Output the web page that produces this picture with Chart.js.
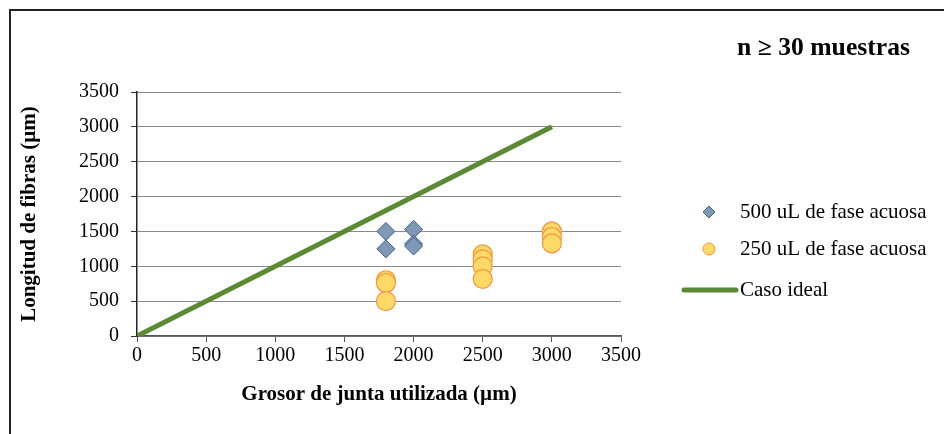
<!DOCTYPE html>
<html>
<head>
<meta charset="utf-8">
<script src="https://cdn.jsdelivr.net/npm/chart.js@4"></script>
<style>
html,body{margin:0;padding:0;background:#fff;}
#wrap{position:relative;width:944px;height:434px;}
</style>
</head>
<body>
<div id="wrap"><canvas id="c" width="944" height="434"></canvas></div>
<script>
// ---- data ----
const series500X = [1800, 1800, 2000, 2000, 2000];
const series500Y = [1500, 1250, 1530, 1320, 1290];
const series250X = [1800, 1800, 1800, 2500, 2500, 2500, 2500, 3000, 3000, 3000];
const series250Y = [800, 760, 500, 1170, 1100, 1000, 820, 1500, 1420, 1330];
const idealX = [0, 3000];
const idealY = [0, 3000];
const seriesLabels = ['500 uL de fase acuosa', '250 uL de fase acuosa', 'Caso ideal'];
const chartTitle = 'n \u2265 30 muestras';
const xTitle = 'Grosor de junta utilizada (\u00b5m)';
const yTitle = 'Longitud de fibras (\u00b5m)';
const axisMin = 0, axisMax = 3500, axisStep = 500;

const pts = (xs, ys) => xs.map((x, i) => ({x: x, y: ys[i]}));
const SERIF = '"Liberation Serif", "Times New Roman", serif';

const decorPlugin = {
  id: 'decor',
  beforeDraw(chart) {
    const ctx = chart.ctx;
    ctx.save();
    ctx.fillStyle = '#fff';
    ctx.fillRect(0, 0, chart.width, chart.height);
    ctx.strokeStyle = '#222';
    ctx.lineWidth = 2;
    ctx.beginPath();
    ctx.moveTo(10, 434);
    ctx.lineTo(10, 10);
    ctx.lineTo(944, 10);
    ctx.stroke();
    ctx.restore();
  },
  afterDraw(chart) {
    const ctx = chart.ctx;
    ctx.save();
    // title
    ctx.font = 'bold 23px ' + SERIF;
    ctx.fillStyle = '#000';
    ctx.textBaseline = 'middle';
    ctx.textAlign = 'left';
    const tw = ctx.measureText(chartTitle).width;
    ctx.save();
    ctx.translate(737, 49);
    ctx.scale(173 / tw, 1.05);
    ctx.fillText(chartTitle, 0, 0);
    ctx.restore();
    // legend
    const ds = chart.data.datasets;
    const rows = [212, 249, 290];
    ctx.font = '21px ' + SERIF;
    // diamond
    let y = rows[0];
    ctx.beginPath();
    ctx.moveTo(709, y - 6); ctx.lineTo(715, y); ctx.lineTo(709, y + 6); ctx.lineTo(703, y); ctx.closePath();
    ctx.fillStyle = ds[0].backgroundColor; ctx.fill();
    ctx.strokeStyle = ds[0].borderColor; ctx.lineWidth = 1; ctx.stroke();
    // circle
    y = rows[1];
    ctx.beginPath();
    ctx.arc(709, y, 6, 0, Math.PI * 2);
    ctx.fillStyle = ds[1].backgroundColor; ctx.fill();
    ctx.strokeStyle = ds[1].borderColor; ctx.lineWidth = 1; ctx.stroke();
    // line
    y = rows[2];
    ctx.beginPath();
    ctx.moveTo(684, y); ctx.lineTo(736, y);
    ctx.strokeStyle = ds[2].borderColor; ctx.lineWidth = 5; ctx.lineCap = 'round'; ctx.stroke();
    ctx.fillStyle = '#000';
    ctx.fillText(ds[0].label, 740, rows[0]);
    ctx.fillText(ds[1].label, 740, rows[1]);
    ctx.fillText(ds[2].label, 740, rows[2]);
    ctx.restore();
  }
};

const plainTick = (v) => String(v);

new Chart(document.getElementById('c'), {
  type: 'scatter',
  data: {
    datasets: [
      {
        label: seriesLabels[0],
        data: pts(series500X, series500Y),
        pointStyle: 'rectRot',
        pointRadius: 9,
        pointHoverRadius: 9,
        backgroundColor: '#8097b6',
        borderColor: '#3d6492',
        borderWidth: 1,
        order: 2
      },
      {
        label: seriesLabels[1],
        data: pts(series250X, series250Y),
        pointStyle: 'circle',
        pointRadius: 9.5,
        pointHoverRadius: 9.5,
        backgroundColor: '#ffd966',
        borderColor: '#f5953f',
        borderWidth: 1.2,
        order: 1
      },
      {
        label: seriesLabels[2],
        type: 'line',
        data: pts(idealX, idealY),
        borderColor: '#5a8a34',
        backgroundColor: '#5a8a34',
        borderWidth: 5,
        pointRadius: 0,
        fill: false,
        order: 3
      }
    ]
  },
  options: {
    responsive: false,
    animation: false,
    layout: {padding: {left: 0, top: 92, right: 323, bottom: 0}},
    plugins: {legend: {display: false}, title: {display: false}, tooltip: {enabled: false}},
    scales: {
      x: {
        type: 'linear',
        min: axisMin, max: axisMax,
        ticks: {stepSize: axisStep, color: '#000', font: {family: SERIF, size: 20}, padding: 2, maxRotation: 0, callback: plainTick},
        grid: {display: true, drawOnChartArea: false, drawTicks: true, tickLength: 6, color: '#555'},
        border: {display: true, color: '#555', width: 1.5},
        title: {display: true, text: xTitle, color: '#000', font: {family: SERIF, size: 21, weight: 'bold'}, padding: {top: 6, bottom: 27}},
        afterFit(s) { s.height = 434 - 336; }
      },
      y: {
        type: 'linear',
        min: axisMin, max: axisMax,
        ticks: {stepSize: axisStep, color: '#000', font: {family: SERIF, size: 20}, padding: 12, callback: plainTick},
        grid: {display: true, color: '#8a8a8a', lineWidth: 1, tickLength: 6, tickColor: '#333', drawTicks: true},
        border: {display: true, color: '#222', width: 1.5},
        title: {display: true, text: yTitle, color: '#000', font: {family: SERIF, size: 21, weight: 'bold'}, padding: {top: 17, bottom: 0}},
        afterFit(s) { s.width = 137; }
      }
    }
  },
  plugins: [decorPlugin]
});
</script>
</body>
</html>
